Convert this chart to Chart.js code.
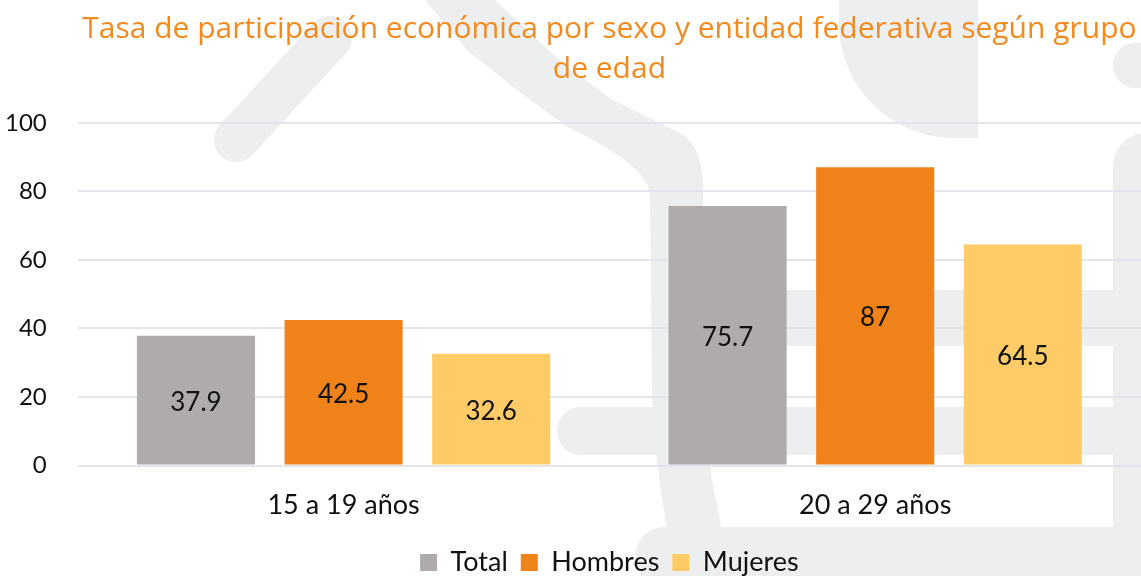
<!DOCTYPE html>
<html>
<head>
<meta charset="utf-8">
<script src="https://cdn.jsdelivr.net/npm/chart.js@4"></script>
<style>
  html, body { margin:0; padding:0; background:#fff; }
  #wrap { width:1141px; height:576px; position:relative; }
</style>
</head>
<body>
<div id="wrap"><canvas id="chart"></canvas></div>
<script>
// ---------------------------
// Data
// ---------------------------
const titleLines = ['Tasa de participación económica por sexo y entidad federativa según grupo', 'de edad'];
const categories = ['15 a 19 años', '20 a 29 años'];
const seriesNames = ['Total', 'Hombres', 'Mujeres'];
const totalValues = [37.9, 75.7];
const hombresValues = [42.5, 87];
const mujeresValues = [32.6, 64.5];
const yTicks = [0, 20, 40, 60, 80, 100];

const seriesColors = ['#afabaa', '#f0821a', '#ffcb66'];
const FONT = 'Lato, "Open Sans", sans-serif';
const TITLE_FONT = '"Open Sans", Lato, sans-serif';

// ---------------------------
// Background watermark (light logo shapes)
// ---------------------------
const watermark = {
  id:'watermark',
  beforeDraw(chart){
    const c = chart.ctx;
    c.save();
    c.fillStyle = '#eceef0'; c.strokeStyle = '#eceef0';
    c.lineCap = 'round'; c.lineJoin = 'round';
    // short diagonal stroke
    c.lineWidth = 44;
    c.beginPath(); c.moveTo(236,140); c.lineTo(330,38); c.stroke();
    // long diagonal band turning downwards
    c.beginPath();
    c.moveTo(425,0); c.lineTo(467,50); c.lineTo(513,87); c.lineTo(567,127);
    c.quadraticCurveTo(648,165,650,195); c.lineTo(652,400); c.quadraticCurveTo(656,480,676,576);
    c.lineTo(728,576); c.lineTo(720,520); c.quadraticCurveTo(704,450,703,380);
    c.lineTo(703,185); c.quadraticCurveTo(702,145,680,133);
    c.lineTo(613,100); c.lineTo(567,67); c.lineTo(530,33); c.lineTo(495,0);
    c.closePath(); c.fill();
    // U shape at the top
    c.beginPath(); c.roundRect(839,-10,139,148,[0,0,0,115]); c.fill();
    // right side blob and column
    c.beginPath(); c.roundRect(1113,43,60,45,[22,0,0,22]); c.fill();
    c.beginPath(); c.roundRect(1113,133,60,460,[33,0,0,0]); c.fill();
    // horizontal bands
    c.beginPath(); c.rect(700,290,450,56); c.fill();
    c.beginPath(); c.roundRect(557,407,600,48,[24,0,0,24]); c.fill();
    c.beginPath(); c.roundRect(635,527,520,60,[30,0,0,30]); c.fill();
    c.restore();
  }
};

// ---------------------------
// Value labels centred in bars
// ---------------------------
const barLabels = {
  id:'barLabels',
  afterDatasetsDraw(chart){
    const c = chart.ctx;
    c.save();
    c.font = '26px ' + FONT;
    c.fillStyle = '#111';
    c.textAlign = 'center'; c.textBaseline = 'middle';
    chart.data.datasets.forEach((ds, i)=>{
      chart.getDatasetMeta(i).data.forEach((bar, j)=>{
        c.fillText(String(ds.data[j]), bar.x, (bar.y + bar.base)/2 + 2);
      });
    });
    c.restore();
  }
};

new Chart(document.getElementById('chart'), {
  type:'bar',
  data:{
    labels:categories,
    datasets:[
      { label:seriesNames[0], data:totalValues, backgroundColor:seriesColors[0] },
      { label:seriesNames[1], data:hombresValues, backgroundColor:seriesColors[1] },
      { label:seriesNames[2], data:mujeresValues, backgroundColor:seriesColors[2] }
    ].map(d=>Object.assign(d, { barPercentage:0.8, categoryPercentage:0.833 }))
  },
  options:{
    responsive:true, maintainAspectRatio:false, animation:false, devicePixelRatio:1,
    layout:{ padding:{ left:-26, right:0, top:0, bottom:-10 } },
    plugins:{
      title:{
        display:true, text:titleLines, color:'#f28a1e', fullSize:false,
        font:{ family:TITLE_FONT, size:30, weight:'normal', lineHeight:1.33 },
        padding:{ top:10, bottom:33 }
      },
      legend:{
        position:'bottom', fullSize:false,
        labels:{ boxWidth:17, boxHeight:17, padding:13, color:'#111', font:{ family:FONT, size:27 } }
      },
      tooltip:{ enabled:false }
    },
    scales:{
      x:{
        grid:{ display:false }, border:{ display:false },
        ticks:{ color:'#111', font:{ family:FONT, size:27 }, padding:15 }
      },
      y:{
        min:yTicks[0], max:yTicks[yTicks.length-1],
        afterBuildTicks(axis){ axis.ticks = yTicks.map(v=>({ value:v })); },
        grid:{ color:'#e2e6ec', lineWidth:2, drawTicks:false }, border:{ display:false },
        ticks:{ color:'#111', font:{ family:FONT, size:24 }, padding:31 }
      }
    }
  },
  plugins:[watermark, barLabels]
});
</script>
</body>
</html>
